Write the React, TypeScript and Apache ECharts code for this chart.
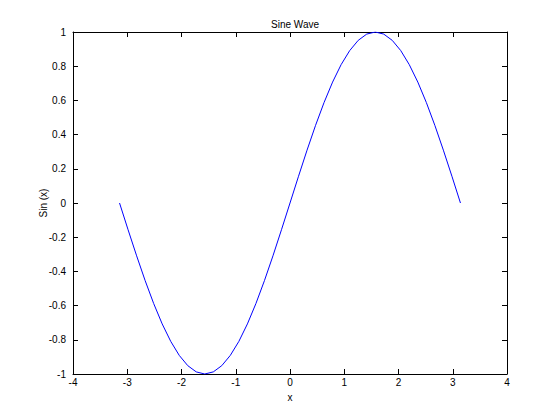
import React, { useEffect, useRef } from "react";
import * as echarts from "echarts";

const xValues = [
  -3.142, -2.985, -2.827, -2.670, -2.513, -2.356, -2.199, -2.042, -1.885, -1.728,
  -1.571, -1.414, -1.257, -1.100, -0.942, -0.785, -0.628, -0.471, -0.314, -0.157,
  0, 0.157, 0.314, 0.471, 0.628, 0.785, 0.942, 1.100, 1.257, 1.414,
  1.571, 1.728, 1.885, 2.042, 2.199, 2.356, 2.513, 2.670, 2.827, 2.985, 3.142,
];
const yValues = [
  0, -0.1564, -0.309, -0.454, -0.5878, -0.7071, -0.809, -0.891, -0.9511, -0.9877,
  -1, -0.9877, -0.9511, -0.891, -0.809, -0.7071, -0.5878, -0.454, -0.309, -0.1564,
  0, 0.1564, 0.309, 0.454, 0.5878, 0.7071, 0.809, 0.891, 0.9511, 0.9877,
  1, 0.9877, 0.9511, 0.891, 0.809, 0.7071, 0.5878, 0.454, 0.309, 0.1564, 0,
];

const titleText = "Sine Wave";
const xName = "x";
const yName = "Sin (x)";

export default function App() {
  const ref = useRef<HTMLDivElement>(null);
  useEffect(() => {
    if (!ref.current) return;
    const chart = echarts.init(ref.current, null, { renderer: "svg" });
    const font = "Liberation Sans, Arial, Helvetica, sans-serif";
    const lineStyle = { color: "#000", width: 1 };
    const baseAxis = {
      axisLine: { show: true, onZero: false, lineStyle },
      axisTick: { show: true, inside: true, length: 5, lineStyle },
      splitLine: { show: false },
    };
    chart.setOption({
      animation: false,
      backgroundColor: "#fff",
      title: {
        text: titleText,
        left: 290,
        top: 14,
        textAlign: "center",
        textStyle: { fontFamily: font, fontSize: 10, fontWeight: "normal", color: "#000" },
      },
      grid: { left: 73, right: 53, top: 32, bottom: 46, containLabel: false },
      xAxis: [
        {
          ...baseAxis,
          type: "value",
          position: "bottom",
          min: -4,
          max: 4,
          interval: 1,
          name: xName,
          nameLocation: "middle",
          nameGap: 18,
          nameMoveOverlap: false,
          nameTextStyle: { fontFamily: font, fontSize: 10, color: "#000" },
          axisLabel: { fontFamily: font, fontSize: 10, color: "#000", margin: 3 },
        },
        {
          ...baseAxis,
          type: "value",
          position: "top",
          min: -4,
          max: 4,
          interval: 1,
          axisLabel: { show: false },
        },
      ],
      yAxis: [
        {
          ...baseAxis,
          type: "value",
          position: "left",
          min: -1,
          max: 1,
          interval: 0.2,
          name: yName,
          nameLocation: "middle",
          nameGap: 25,
          nameMoveOverlap: false,
          nameTextStyle: { fontFamily: font, fontSize: 10, color: "#000" },
          axisLabel: {
            fontFamily: font,
            fontSize: 10,
            color: "#000",
            margin: 7,
            formatter: (v: number) => String(Math.round(v * 10) / 10),
          },
        },
        {
          ...baseAxis,
          type: "value",
          position: "right",
          min: -1,
          max: 1,
          interval: 0.2,
          axisLabel: { show: false },
        },
      ],
      series: [
        {
          type: "line",
          data: xValues.map((x, i) => [x, yValues[i]]),
          showSymbol: false,
          symbol: "none",
          smooth: false,
          lineStyle: { color: "#0000ff", width: 1 },
          xAxisIndex: 0,
          yAxisIndex: 0,
        },
      ],
    });
    return () => chart.dispose();
  }, []);
  return (
    <div
      ref={ref}
      style={{ position: "fixed", left: 0, top: 0, width: 560, height: 420, background: "#fff" }}
    />
  );
}
